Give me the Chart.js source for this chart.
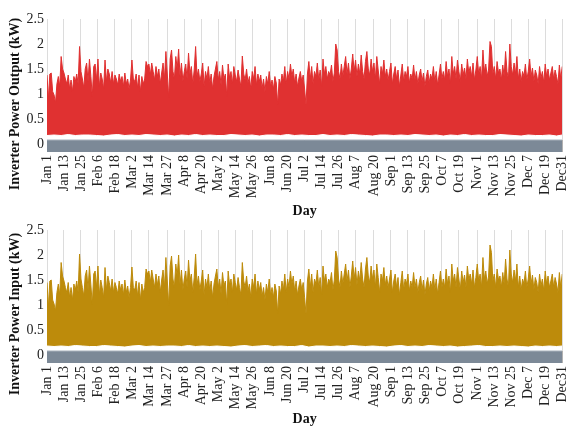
<!DOCTYPE html>
<html>
<head>
<meta charset="utf-8">
<script src="https://cdn.jsdelivr.net/npm/chart.js@4.4.1/dist/chart.umd.min.js"></script>
<style>
  body { margin: 0; background: #fff; }
  #wrap { position: relative; width: 582px; height: 428px; overflow: hidden; }
  canvas { position: absolute; left: 0; }
  .ytitle {
    position: absolute; white-space: nowrap; color: #111;
    font: bold 14px "Liberation Serif", serif;
    transform: translate(-50%, -50%) rotate(-90deg);
  }
</style>
</head>
<body>
<div id="wrap">
  <canvas id="outChart" width="582" height="220" style="top:0"></canvas>
  <canvas id="inChart" width="582" height="218" style="top:210px"></canvas>
  <div class="ytitle" style="left:15px; top:104px">Inverter Power Output (kW)</div>
  <div class="ytitle" style="left:15px; top:314px">Inverter Power Input (kW)</div>
</div>
<script>
// x轴刻度 (第几天) 和标签
const dayTickValues = [0, 12, 24, 36, 48, 60, 72, 85, 97, 109, 121, 133, 145, 158, 170, 182,
  194, 206, 218, 231, 243, 255, 267, 279, 291, 304, 316, 328, 340, 352, 364];
const dayTickLabels = ['Jan 1', 'Jan 13', 'Jan 25', 'Feb 6', 'Feb 18', 'Mar 2', 'Mar 14', 'Mar 27',
  'Apr 8', 'Apr 20', 'May 2', 'May 14', 'May 26', 'Jun 8', 'Jun 20', 'Jul 2', 'Jul 14', 'Jul 26',
  'Aug 7', 'Aug 20', 'Sep 1', 'Sep 13', 'Sep 25', 'Oct 7', 'Oct 19', 'Nov 1', 'Nov 13', 'Nov 25',
  'Dec 7', 'Dec 19', 'Dec31'];
const yTickValues = [0, 0.5, 1, 1.5, 2, 2.5];

// 每日峰值 (kW) - 逆变器输出
const outputHigh = [
  1.38, 0.90, 1.40, 1.42, 1.05, 0.98, 0.82, 1.20, 1.35, 1.15,
  1.75, 1.50, 1.42, 1.30, 1.20, 1.38, 1.10, 1.28, 1.05, 1.35,
  1.25, 1.40, 1.20, 1.95, 1.45, 1.30, 1.12, 1.50, 1.62, 1.25,
  1.70, 1.35, 0.95, 1.55, 1.60, 1.28, 1.70, 1.15, 1.42, 1.30,
  1.10, 1.68, 1.25, 1.50, 1.40, 1.22, 1.45, 1.20, 1.38, 1.30,
  1.18, 1.40, 1.25, 1.35, 1.15, 1.42, 1.20, 1.30, 1.10, 1.28,
  1.68, 1.30, 1.25, 1.40, 1.12, 1.38, 1.05, 1.35, 1.20, 1.30,
  1.65, 1.55, 1.60, 1.38, 1.62, 1.45, 1.28, 1.55, 1.35, 1.50,
  1.20, 1.42, 1.62, 1.30, 1.85, 1.40, 0.92, 1.70, 1.88, 1.45,
  1.30, 1.75, 1.50, 1.90, 1.35, 1.62, 1.25, 1.45, 1.60, 1.30,
  1.82, 1.40, 1.55, 1.20, 1.48, 1.95, 1.35, 1.50, 1.25, 1.40,
  1.62, 1.15, 1.45, 1.30, 1.55, 1.22, 1.40, 1.10, 1.35, 1.50,
  1.65, 1.28, 1.45, 1.18, 1.58, 1.30, 1.40, 0.95, 1.60, 1.32,
  1.45, 1.20, 1.55, 1.38, 1.25, 1.48, 1.30, 1.15, 1.76, 1.40,
  1.28, 1.50, 1.22, 1.35, 1.10, 1.45, 1.30, 1.55, 1.18, 1.40,
  1.25, 1.38, 1.12, 1.30, 1.05, 1.35, 1.20, 1.45, 1.15, 1.28,
  1.10, 1.35, 1.22, 0.78, 1.30, 1.18, 1.40, 1.25, 1.55, 1.20,
  1.45, 1.30, 1.60, 1.35, 1.50, 1.22, 1.40, 1.15, 1.32, 1.45,
  1.25, 1.38, 1.10, 0.78, 1.40, 1.65, 1.30, 1.55, 1.20, 1.45,
  1.35, 1.62, 1.28, 1.48, 1.15, 1.70, 1.40, 1.55, 1.30, 1.45,
  1.38, 1.58, 1.25, 1.42, 2.00, 1.88, 1.45, 1.30, 1.60, 1.35,
  1.55, 1.75, 1.40, 1.62, 1.30, 1.50, 1.80, 1.45, 1.68, 1.35,
  1.60, 1.40, 1.78, 1.45, 1.30, 1.65, 1.85, 1.50, 1.38, 1.70,
  1.45, 1.62, 1.30, 1.75, 1.48, 1.20, 1.55, 1.40, 1.68, 1.35,
  1.50, 1.28, 1.45, 1.62, 1.20, 1.40, 1.55, 1.30, 1.48, 1.15,
  1.38, 1.60, 1.25, 1.45, 1.35, 1.55, 1.22, 1.40, 1.30, 1.58,
  1.28, 1.45, 1.20, 1.38, 1.50, 1.25, 1.42, 1.15, 1.35, 1.48,
  1.22, 1.40, 1.30, 1.55, 1.25, 1.45, 1.18, 1.38, 1.60, 1.30,
  1.45, 1.28, 1.65, 1.35, 1.50, 1.20, 1.75, 1.40, 1.55, 1.30,
  1.68, 1.45, 1.25, 1.60, 1.38, 1.52, 1.30, 1.70, 1.42, 1.55,
  1.35, 1.62, 1.28, 1.48, 1.75, 1.40, 1.55, 1.30, 1.88, 1.45,
  1.60, 1.35, 1.50, 2.05, 1.95, 1.40, 1.55, 1.30, 1.65, 1.42,
  1.50, 1.28, 1.58, 1.35, 1.85, 1.45, 1.30, 2.00, 1.55, 1.38,
  1.62, 1.40, 1.75, 1.30, 1.50, 1.25, 1.45, 1.35, 1.60, 1.28,
  1.45, 1.70, 1.35, 1.52, 1.25, 1.48, 1.38, 1.20, 1.55, 1.32,
  1.45, 1.22, 1.60, 1.35, 1.50, 1.28, 1.42, 1.55, 1.30, 1.48,
  1.35, 1.20, 1.58, 1.30, 1.55
];

// 每日峰值 (kW) - 逆变器输入
const inputHigh = [
  1.45, 0.95, 1.48, 1.50, 1.10, 1.02, 0.88, 1.25, 1.42, 1.20,
  1.85, 1.58, 1.48, 1.35, 1.25, 1.45, 1.15, 1.35, 1.10, 1.42,
  1.30, 1.48, 1.25, 2.02, 1.52, 1.35, 1.18, 1.58, 1.70, 1.30,
  1.78, 1.40, 1.00, 1.62, 1.68, 1.35, 1.78, 1.20, 1.50, 1.35,
  1.15, 1.75, 1.30, 1.58, 1.45, 1.28, 1.52, 1.25, 1.45, 1.35,
  1.22, 1.48, 1.30, 1.42, 1.20, 1.50, 1.25, 1.38, 1.15, 1.35,
  1.76, 1.35, 1.30, 1.48, 1.18, 1.45, 1.10, 1.42, 1.25, 1.35,
  1.72, 1.62, 1.68, 1.45, 1.70, 1.52, 1.35, 1.62, 1.40, 1.58,
  1.25, 1.50, 1.70, 1.35, 1.95, 1.48, 0.98, 1.78, 1.98, 1.52,
  1.35, 1.82, 1.58, 2.00, 1.40, 1.70, 1.30, 1.52, 1.68, 1.35,
  1.90, 1.48, 1.62, 1.25, 1.55, 2.02, 1.40, 1.58, 1.30, 1.48,
  1.70, 1.20, 1.52, 1.35, 1.62, 1.28, 1.48, 1.15, 1.42, 1.58,
  1.72, 1.35, 1.52, 1.22, 1.65, 1.38, 1.48, 1.00, 1.68, 1.40,
  1.52, 1.25, 1.62, 1.45, 1.30, 1.55, 1.35, 1.20, 1.85, 1.48,
  1.35, 1.58, 1.28, 1.42, 1.15, 1.52, 1.35, 1.62, 1.22, 1.48,
  1.30, 1.45, 1.18, 1.35, 1.10, 1.42, 1.25, 1.52, 1.20, 1.35,
  1.15, 1.42, 1.28, 0.82, 1.38, 1.22, 1.48, 1.30, 1.62, 1.25,
  1.52, 1.35, 1.68, 1.42, 1.58, 1.28, 1.48, 1.20, 1.38, 1.52,
  1.30, 1.45, 1.15, 0.82, 1.48, 1.72, 1.35, 1.62, 1.25, 1.52,
  1.42, 1.70, 1.35, 1.55, 1.20, 1.78, 1.48, 1.62, 1.35, 1.52,
  1.45, 1.65, 1.30, 1.50, 2.08, 1.95, 1.52, 1.35, 1.68, 1.42,
  1.62, 1.82, 1.48, 1.70, 1.35, 1.58, 1.88, 1.52, 1.75, 1.40,
  1.68, 1.48, 1.85, 1.52, 1.35, 1.72, 1.95, 1.58, 1.45, 1.78,
  1.52, 1.70, 1.35, 1.82, 1.55, 1.25, 1.62, 1.48, 1.75, 1.40,
  1.58, 1.35, 1.52, 1.70, 1.25, 1.48, 1.62, 1.35, 1.55, 1.20,
  1.45, 1.68, 1.30, 1.52, 1.42, 1.62, 1.28, 1.48, 1.35, 1.65,
  1.35, 1.52, 1.25, 1.45, 1.58, 1.30, 1.50, 1.20, 1.42, 1.55,
  1.28, 1.48, 1.35, 1.62, 1.30, 1.52, 1.22, 1.45, 1.68, 1.35,
  1.52, 1.35, 1.72, 1.42, 1.58, 1.25, 1.82, 1.48, 1.62, 1.35,
  1.75, 1.52, 1.30, 1.68, 1.45, 1.60, 1.35, 1.78, 1.50, 1.62,
  1.42, 1.70, 1.35, 1.55, 1.82, 1.48, 1.62, 1.35, 1.95, 1.52,
  1.68, 1.42, 1.58, 2.20, 2.05, 1.48, 1.62, 1.35, 1.72, 1.50,
  1.58, 1.35, 1.65, 1.42, 1.92, 1.52, 1.35, 2.10, 1.62, 1.45,
  1.70, 1.48, 1.82, 1.35, 1.58, 1.30, 1.52, 1.42, 1.68, 1.35,
  1.52, 1.78, 1.42, 1.60, 1.30, 1.55, 1.45, 1.25, 1.62, 1.38,
  1.52, 1.28, 1.68, 1.42, 1.58, 1.35, 1.48, 1.62, 1.35, 1.55,
  1.42, 1.25, 1.65, 1.35, 1.62
];

// 底部夜间基线 (kW), 每5天取一个点
const lowDays = [0, 5, 10, 15, 20, 25, 30, 35, 40, 45, 50, 55, 60, 65, 70, 75, 80, 85, 90, 95,
  100, 105, 110, 115, 120, 125, 130, 135, 140, 145, 150, 155, 160, 165, 170, 175, 180, 185, 190, 195,
  200, 205, 210, 215, 220, 225, 230, 235, 240, 245, 250, 255, 260, 265, 270, 275, 280, 285, 290, 295,
  300, 305, 310, 315, 320, 325, 330, 335, 340, 345, 350, 355, 360, 364];
const outputLow = [
  0.17, 0.18, 0.17, 0.19, 0.17, 0.18, 0.18, 0.17, 0.16, 0.18,
  0.19, 0.17, 0.18, 0.17, 0.19, 0.18, 0.17, 0.18, 0.16, 0.18,
  0.17, 0.19, 0.17, 0.18, 0.17, 0.17, 0.19, 0.18, 0.17, 0.18,
  0.16, 0.18, 0.18, 0.17, 0.19, 0.17, 0.18, 0.17, 0.17, 0.19,
  0.17, 0.18, 0.17, 0.19, 0.18, 0.17, 0.16, 0.18, 0.18, 0.17,
  0.18, 0.17, 0.19, 0.18, 0.17, 0.18, 0.16, 0.18, 0.17, 0.19,
  0.17, 0.18, 0.17, 0.17, 0.19, 0.18, 0.17, 0.16, 0.18, 0.17,
  0.17, 0.18, 0.16, 0.18
];
const inputLow = [
  0.18, 0.17, 0.18, 0.17, 0.19, 0.18, 0.17, 0.17, 0.19, 0.18,
  0.17, 0.16, 0.18, 0.19, 0.17, 0.18, 0.17, 0.18, 0.18, 0.17,
  0.19, 0.17, 0.18, 0.17, 0.18, 0.17, 0.16, 0.18, 0.19, 0.17,
  0.18, 0.19, 0.17, 0.18, 0.17, 0.17, 0.19, 0.16, 0.18, 0.18,
  0.17, 0.18, 0.17, 0.19, 0.18, 0.17, 0.18, 0.17, 0.16, 0.18,
  0.19, 0.17, 0.18, 0.17, 0.19, 0.18, 0.17, 0.18, 0.16, 0.17,
  0.18, 0.19, 0.17, 0.17, 0.18, 0.17, 0.18, 0.17, 0.16, 0.18,
  0.17, 0.18, 0.17, 0.18
];

// 灰色时间条的上下沿 (kW)
const bandTop = 0.08;
const bandBottom = -0.16;

const serif = '"Liberation Serif", "Times New Roman", serif';

function makePanel(canvasId, highs, lows, color, padTop, xAxisHeight) {
  const ctx = document.getElementById(canvasId).getContext('2d');
  const lastDay = highs.length - 1;
  return new Chart(ctx, {
    type: 'line',
    data: {
      datasets: [
        // 灰色条
        {
          data: [{ x: 0, y: bandTop }, { x: lastDay, y: bandTop }],
          borderColor: '#a7b1bb', borderWidth: 1,
          backgroundColor: '#7c8997', fill: 'start', order: 0
        },
        // 两端黑色标记
        {
          data: [{ x: 0, y: bandBottom }, { x: 0, y: bandTop }],
          borderColor: '#111', borderWidth: 3, fill: false, order: 0
        },
        {
          data: [{ x: lastDay, y: bandBottom }, { x: lastDay, y: bandTop }],
          borderColor: '#111', borderWidth: 3, fill: false, order: 0
        },
        // 底部白色空隙
        {
          data: lows.map((v, i) => ({ x: lowDays[i], y: v })),
          borderColor: '#fff', borderWidth: 1,
          backgroundColor: '#fff', fill: 'origin', order: 1
        },
        // 功率
        {
          data: highs.map((v, i) => ({ x: i, y: v })),
          borderColor: color, borderWidth: 1,
          backgroundColor: color, fill: 'origin', order: 2
        }
      ]
    },
    options: {
      responsive: false,
      animation: false,
      layout: { padding: { top: padTop, left: 0, right: 8, bottom: 0 } },
      plugins: { legend: { display: false }, tooltip: { enabled: false } },
      elements: { point: { radius: 0 }, line: { tension: 0 } },
      scales: {
        x: {
          type: 'linear', min: 0, max: lastDay,
          afterBuildTicks: s => { s.ticks = dayTickValues.map(v => ({ value: v })); },
          afterFit: s => { s.height = xAxisHeight; },
          ticks: {
            autoSkip: false, maxRotation: 90, minRotation: 90, padding: 3,
            color: '#222', font: { family: serif, size: 14 },
            callback: (v, i) => dayTickLabels[i]
          },
          grid: { color: '#dcdcdc', lineWidth: 1, drawTicks: false },
          border: { display: false },
          title: {
            display: true, text: 'Day', color: '#111',
            font: { family: serif, size: 14, weight: 'bold' },
            padding: { top: 0, bottom: 0 }
          }
        },
        y: {
          min: bandBottom, max: 2.5,
          afterBuildTicks: s => { s.ticks = yTickValues.map(v => ({ value: v })); },
          afterFit: s => { s.width = 47; },
          ticks: {
            color: '#222', padding: 3, font: { family: serif, size: 14 },
            callback: v => String(v)
          },
          grid: { display: false, drawTicks: false },
          border: { display: false }
        }
      }
    }
  });
}

makePanel('outChart', outputHigh, outputLow, '#e03131', 19, 68);
makePanel('inChart', inputHigh, inputLow, '#bd8b0b', 20, 65);
</script>
</body>
</html>
